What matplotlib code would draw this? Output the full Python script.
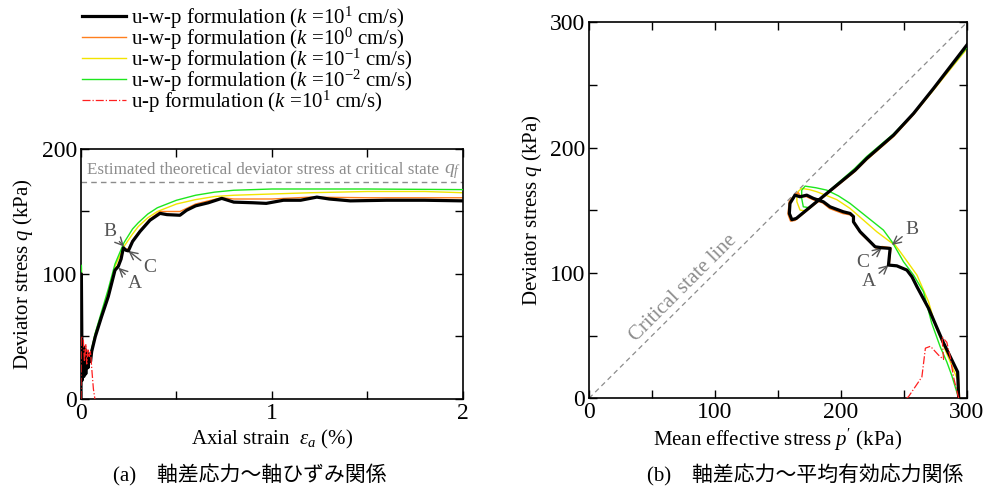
import matplotlib
matplotlib.use("Agg")
import matplotlib.pyplot as plt
from matplotlib.ticker import MultipleLocator

plt.rcParams['font.family'] = ['Liberation Serif', 'Noto Sans CJK JP']
plt.rcParams['mathtext.fontset'] = 'custom'
plt.rcParams['mathtext.rm'] = 'Liberation Serif'
plt.rcParams['mathtext.it'] = 'Liberation Serif:italic'
plt.rcParams['mathtext.bf'] = 'Liberation Serif:bold'

# ---------------- (a) deviator stress vs axial strain ----------------
eps_k1 = [0, 0.002, 0.006, 0.011, 0.015, 0.02, 0.025, 0.031, 0.037, 0.044, 0.05, 0.056,
          0.075, 0.108, 0.143, 0.178, 0.195, 0.21, 0.222, 0.235, 0.248, 0.27, 0.309, 0.361,
          0.414, 0.45, 0.518, 0.553, 0.6, 0.667, 0.737, 0.8, 0.9, 0.97, 1.06, 1.15, 1.235,
          1.3, 1.41, 1.6, 1.8, 2.0]
q_k1 = [0, 100, 15, 42, 18, 40, 20, 37, 25, 36, 30, 38,
        50, 66, 82, 103, 106, 112, 121, 119, 118.5, 126, 134, 143,
        148.5, 147.5, 147, 151, 154.5, 157, 160.5, 157.5, 157, 156.5, 159, 159, 161.5,
        160, 158.5, 159, 159, 158.5]

eps_k0 = [0, 0.002, 0.006, 0.012, 0.02, 0.03, 0.04, 0.056, 0.075, 0.108, 0.143, 0.178,
          0.195, 0.21, 0.222, 0.235, 0.248, 0.27, 0.309, 0.361, 0.414, 0.45, 0.518, 0.553,
          0.6, 0.667, 0.737, 0.8, 0.9, 1.0, 1.2, 1.5, 2.0]
q_k0 = [0, 102, 16, 40, 22, 36, 28, 38, 50, 66, 83, 104,
        107, 113, 121, 120, 120, 127, 135, 144, 150, 150, 150, 152.5,
        156, 158.5, 161, 160, 160, 160, 161.5, 161, 161]

eps_km1 = [0, 0.002, 0.006, 0.012, 0.02, 0.03, 0.04, 0.056, 0.075, 0.108, 0.143, 0.178,
           0.225, 0.27, 0.3, 0.35, 0.4, 0.5, 0.6, 0.7, 0.8, 1.0, 1.2, 1.5, 1.8, 2.0]
q_km1 = [0, 105, 15, 40, 22, 36, 28, 40, 52, 68, 86, 106,
         122, 132, 138, 145, 150, 156, 159.5, 162, 163, 164, 165, 166, 166, 165]

eps_km2 = [0, 0.002, 0.006, 0.012, 0.02, 0.03, 0.04, 0.056, 0.075, 0.108, 0.143, 0.178,
           0.225, 0.27, 0.3, 0.35, 0.4, 0.5, 0.6, 0.7, 0.8, 1.0, 1.5, 2.0]
q_km2 = [0, 107, 14, 40, 22, 36, 28, 40, 53, 70, 88, 108,
         125, 136, 141, 148, 153, 159, 163, 165.5, 167, 168, 168, 167.5]

eps_up = [0, 0.001, 0.012, 0.018, 0.025, 0.03, 0.037, 0.043, 0.05, 0.056, 0.065, 0.073]
q_up = [0, 50, 48, 30, 44, 28, 40, 34, 38, 25, 8, 0]

q_f = 173.4

# ---------------- (b) deviator stress vs mean effective stress ----------------
p_k1 = [293.4, 292.6, 281, 269.5, 260.3, 256.3, 252.3, 244.3, 237.7, 239, 232.4, 227.1,
        220.5, 215.2, 209.9, 209.9, 207.2, 201.9, 191.3, 186, 178.1, 172.8, 167.5, 163.5,
        159.5, 159, 161, 164.5, 211.2, 220.5, 241.7, 257.6, 273.5, 300]
pq_k1 = [0, 21, 45, 71.8, 89, 97, 102.3, 105.7, 106.3, 119.6, 120.1, 120.9,
         127.6, 132.9, 140.8, 145, 147.5, 148.8, 152.8, 156.8, 159.5, 162.1, 160.8, 162.1,
         155.5, 147.5, 142.5, 143.5, 182, 191.4, 210, 227.3, 247.3, 282]

p_k0 = [294, 293, 281.5, 270, 260.8, 256.8, 252.8, 244.8, 238.2, 239.5, 232.6, 227.8,
        221.5, 216.2, 210.9, 209.5, 207, 201.5, 191, 185.5, 178, 172.5, 168, 166,
        163.5, 159, 158, 160, 163.5, 211, 220.5, 241.7, 257.6, 273.5, 300]
pq_k0 = [0, 20, 44, 70.5, 88, 96.5, 102, 105.5, 106.5, 120, 121, 120,
         126, 131, 139, 145, 146.5, 147.5, 151.5, 156, 158.5, 161, 161, 164,
         162.5, 157, 147, 141.5, 142, 181, 190.5, 209, 226.5, 246.5, 280]

p_km1 = [294, 292.5, 283, 275, 269.5, 260.3, 253.6, 247, 243, 239, 228.4, 217.8,
         207.2, 196.7, 188, 180.8, 175, 168.8, 166, 165, 165, 167.5, 171.5, 176,
         211, 220.5, 241.7, 257.6, 273.5, 300]
pq_km1 = [0, 15, 38, 58, 77, 98.3, 107.7, 116.9, 122.3, 124.9, 132.9, 142.2,
          151.5, 158.5, 162, 164.8, 166.5, 167.5, 165, 161, 156.8, 150.2, 149.5, 153,
          181, 190.5, 209, 226.5, 246, 279]

p_km2 = [293.4, 288, 284, 278.8, 272, 265.5, 257.6, 249.6, 244.3, 240.4, 233.7, 220.5,
         207.2, 198, 188.7, 180, 171.5, 168.8, 168.8, 170.1, 175.4, 183, 211, 220.5,
         241.7, 257.6, 273.5, 300]
pq_km2 = [0, 18, 29, 41, 60, 85, 98.3, 109, 118.3, 125, 134.2, 144.8,
          155.5, 161.5, 166.1, 168, 169.3, 166, 159.5, 152.8, 152, 159, 183.5, 193,
          211, 227.5, 247, 280]

p_up = [293.4, 289.3, 286.7, 284, 280.2, 281.4, 277.4, 271, 267, 264.2, 253.6, 252]
pq_up = [0, 17, 33, 44.7, 49, 31, 34.5, 41.5, 40, 17, 1.3, 0]

labels = [r"u-w-p formulation ($k$ =$10^{1}$ cm/s)",
          r"u-w-p formulation ($k$ =$10^{0}$ cm/s)",
          r"u-w-p formulation ($k$ =$10^{-1}$ cm/s)",
          r"u-w-p formulation ($k$ =$10^{-2}$ cm/s)",
          r"u-p formulation ($k$ =$10^{1}$ cm/s)"]

c_k1, c_k0, c_km1, c_km2, c_up = '#000000', '#ff7f1e', '#f2e400', '#1ee61e', '#ff2020'
grey = '#8c8c8c'
note = '#555555'

fig = plt.figure(figsize=(9.84, 4.97), dpi=100)
ax1 = fig.add_axes([0.0823, 0.1972, 0.3882, 0.503])
ax2 = fig.add_axes([0.5986, 0.1986, 0.3841, 0.7565])


def style(ax):
    ax.tick_params(which='both', direction='in', top=True, right=True,
                   length=6, width=1, labelsize=17, pad=3)
    for s in ax.spines.values():
        s.set_linewidth(1.2)


# (a)
ax1.plot(eps_km2, q_km2, color=c_km2, lw=1.0, zorder=3)
ax1.plot(eps_km1, q_km1, color=c_km1, lw=1.0, zorder=2)
ax1.plot(eps_k0, q_k0, color=c_k0, lw=1.0, zorder=2)
ax1.plot(eps_k1, q_k1, color=c_k1, lw=2.3, zorder=4)
ax1.plot(eps_up, q_up, color=c_up, lw=0.9, ls='-.', zorder=5)
ax1.axhline(q_f, color=grey, lw=1, ls=(0, (4, 3)), zorder=1)
ax1.text(0.033, 183, "Estimated theoretical deviator stress at critical state",
         color=grey, fontsize=12.3, va='center', ha='left')
ax1.text(1.9, 182, r"$q_f$", color=grey, fontsize=14, va='center', ha='left')
ax1.set_xlim(0, 2)
ax1.set_ylim(0, 200)
ax1.xaxis.set_major_locator(MultipleLocator(1))
ax1.xaxis.set_minor_locator(MultipleLocator(0.5))
ax1.yaxis.set_major_locator(MultipleLocator(100))
ax1.yaxis.set_minor_locator(MultipleLocator(50))
style(ax1)
ax1.set_xlabel(r"Axial strain  $\varepsilon_a$ (%)", fontsize=15)
ax1.set_ylabel(r"Deviator stress $q$ (kPa)", fontsize=15)
ax1.xaxis.set_label_coords(0.5, -0.115)
ax1.yaxis.set_label_coords(-0.12, 0.5)

arr = dict(arrowstyle='->', color=note, lw=1.0, shrinkA=0, shrinkB=0)
ax1.annotate("A", xy=(0.196, 105), xytext=(0.283, 92), color=note, fontsize=14,
             ha='center', va='center', arrowprops=arr)
ax1.annotate("B", xy=(0.225, 122), xytext=(0.152, 134), color=note, fontsize=14,
             ha='center', va='center', arrowprops=arr)
ax1.annotate("C", xy=(0.248, 118.5), xytext=(0.362, 105), color=note, fontsize=14,
             ha='center', va='center', arrowprops=arr)

# (b)
ax2.plot([0, 300], [0, 300], color=grey, lw=0.9, ls=(0, (4, 3)), zorder=1)
ax2.text(74.7, 88, "Critical state line", color=grey, fontsize=15, rotation=45,
         ha='center', va='center', rotation_mode='anchor')
ax2.plot(p_km2, pq_km2, color=c_km2, lw=1.0, zorder=3)
ax2.plot(p_km1, pq_km1, color=c_km1, lw=1.0, zorder=2)
ax2.plot(p_k0, pq_k0, color=c_k0, lw=1.2, zorder=2)
ax2.plot(p_k1, pq_k1, color=c_k1, lw=2.3, zorder=4)
ax2.plot(p_up, pq_up, color=c_up, lw=0.9, ls='-.', zorder=5)
ax2.set_xlim(0, 300)
ax2.set_ylim(0, 300)
for axis in (ax2.xaxis, ax2.yaxis):
    axis.set_major_locator(MultipleLocator(100))
    axis.set_minor_locator(MultipleLocator(50))
style(ax2)
ax2.set_xlabel(r"Mean effective stress $p'$ (kPa)", fontsize=15)
ax2.set_ylabel(r"Deviator stress $q$ (kPa)", fontsize=15)
ax2.xaxis.set_label_coords(0.5, -0.075)
ax2.yaxis.set_label_coords(-0.12, 0.5)

ax2.annotate("A", xy=(237.7, 106.3), xytext=(222.5, 93), color=note, fontsize=14,
             ha='center', va='center', arrowprops=arr)
ax2.annotate("B", xy=(240.4, 122.3), xytext=(256, 135), color=note, fontsize=14,
             ha='center', va='center', arrowprops=arr)
ax2.annotate("C", xy=(232.4, 120.1), xytext=(217.5, 108), color=note, fontsize=14,
             ha='center', va='center', arrowprops=arr)

# legend
handles = [plt.Line2D([], [], color=c_k1, lw=2.3),
           plt.Line2D([], [], color=c_k0, lw=1.0),
           plt.Line2D([], [], color=c_km1, lw=1.0),
           plt.Line2D([], [], color=c_km2, lw=1.0),
           plt.Line2D([], [], color=c_up, lw=0.9, ls='-.')]
fig.legend(handles, labels, loc='upper left', bbox_to_anchor=(0.069, 1.02),
           frameon=False, fontsize=15, handlelength=2.1, handletextpad=0.25,
           labelspacing=-0.25, borderpad=0.2)

# captions
fig.text(0.254, 0.044, "(a)　軸差応力～軸ひずみ関係", fontsize=15, ha='center', va='center')
fig.text(0.818, 0.044, "(b)　軸差応力～平均有効応力関係", fontsize=15, ha='center', va='center')

fig.savefig("out.png", dpi=100)
